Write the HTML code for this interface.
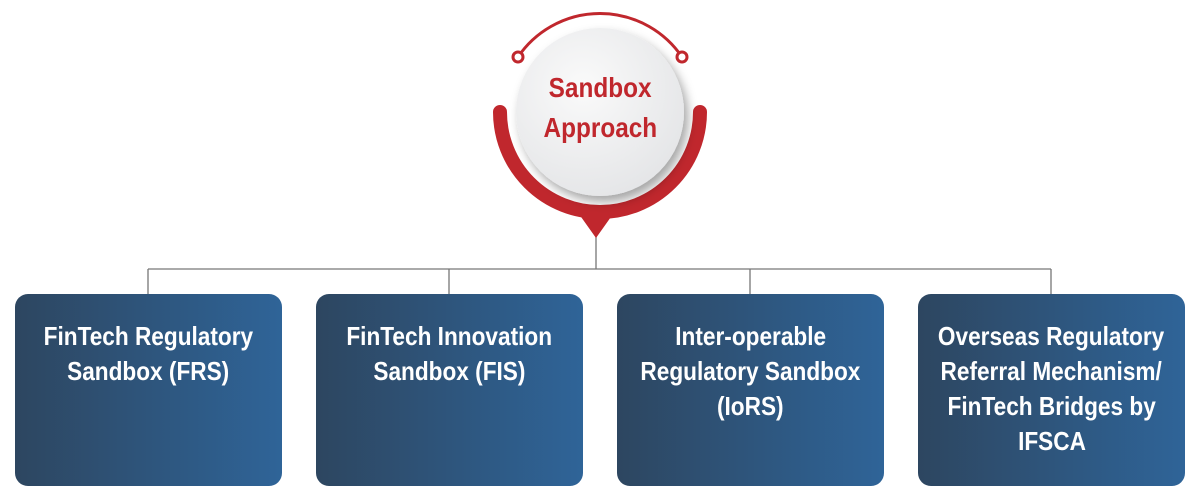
<!DOCTYPE html>
<html><head><meta charset="utf-8"><style>
html,body{margin:0;padding:0;background:#fff;}
#w{position:relative;width:1200px;height:500px;overflow:hidden;font-family:"Liberation Sans",Arial,sans-serif;}
.box{position:absolute;top:294px;width:267px;height:192px;border-radius:13px;background:linear-gradient(90deg,#2d4660,#2f6498);color:#fff;font-weight:bold;font-size:26px;line-height:35px;text-align:center;box-sizing:border-box;padding-top:25px;}
.box span{display:inline-block;transform:scaleX(0.87);white-space:nowrap;}
.ctr{position:absolute;left:500px;top:68px;width:200px;text-align:center;color:#c0272d;font-weight:bold;font-size:28px;line-height:40px;}
.ctr span{display:inline-block;transform:scaleX(0.87);}
</style></head><body><div id="w">
<svg width="1200" height="500" style="position:absolute;left:0;top:0">
<defs>
<radialGradient id="g" cx="0.4" cy="0.35" r="0.7"><stop offset="0" stop-color="#fafafa"/><stop offset="1" stop-color="#e4e5e7"/></radialGradient>
<filter id="s" x="-30%" y="-30%" width="160%" height="160%"><feDropShadow dx="4" dy="6" stdDeviation="5" flood-color="#000" flood-opacity="0.35"/></filter>
</defs>
<g stroke="#777" stroke-width="1.3" fill="none">
<line x1="596" y1="232" x2="596" y2="269"/>
<line x1="148" y1="269" x2="1051" y2="269"/>
<line x1="148" y1="269" x2="148" y2="294"/>
<line x1="449" y1="269" x2="449" y2="294"/>
<line x1="750" y1="269" x2="750" y2="294"/>
<line x1="1051" y1="269" x2="1051" y2="294"/>
</g>
<path d="M518 57 A99 99 0 0 1 682 57" stroke="#c0272d" stroke-width="3" fill="none"/>
<circle cx="518" cy="57" r="5" fill="#fff" stroke="#c0272d" stroke-width="3"/>
<circle cx="682" cy="57" r="5" fill="#fff" stroke="#c0272d" stroke-width="3"/>
<path d="M500 112 A100 100 0 0 0 700 112" stroke="#c0272d" stroke-width="14" fill="none" stroke-linecap="round"/>
<path d="M574 207 L618 207 L596 238 Z" fill="#c0272d"/>
<circle cx="600" cy="112" r="84" fill="url(#g)" filter="url(#s)"/>
</svg>
<div class="ctr"><span>Sandbox</span><br><span>Approach</span></div>
<div class="box" style="left:15px"><span>FinTech Regulatory</span><br><span>Sandbox (FRS)</span></div>
<div class="box" style="left:316px"><span>FinTech Innovation</span><br><span>Sandbox (FIS)</span></div>
<div class="box" style="left:617px"><span>Inter-operable</span><br><span>Regulatory Sandbox</span><br><span>(IoRS)</span></div>
<div class="box" style="left:918px"><span>Overseas Regulatory</span><br><span>Referral Mechanism/</span><br><span>FinTech Bridges by</span><br><span>IFSCA</span></div>
</div></body></html>
